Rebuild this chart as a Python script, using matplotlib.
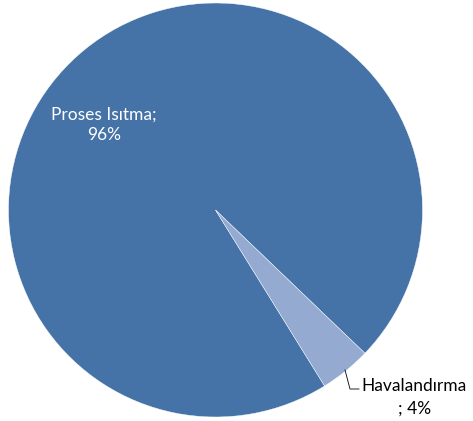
import matplotlib
matplotlib.use('Agg')
import matplotlib.pyplot as plt

# ---- DATA ----
labels = ['Proses Isıtma', 'Havalandırma']
values = [96, 4]
colors = ['#4573A7', '#95AAD0']

# ---- FIGURE ----
W, H = 473, 421
fig = plt.figure(figsize=(W / 100, H / 100), dpi=100)
ax = fig.add_axes([0, 0, 1, 1])

cx, cy, r = 215.5, H - 210, 207
ax.pie(values, colors=colors, startangle=-58.2, counterclock=False,
       center=(cx, cy), radius=r, frame=True,
       wedgeprops=dict(edgecolor='white', linewidth=0.3))
ax.set_xlim(0, W)
ax.set_ylim(0, H)
ax.set_aspect('equal')
ax.axis('off')

font = 'Lato'
fs = 12.5
pct = [f'{v}%' for v in values]

# label inside the big slice
ax.text(104, H - 125, f'{labels[0]};\n{pct[0]}', color='white', fontsize=fs,
        family=font, ha='center', va='center', linespacing=1.35)

# outside label for small slice with leader line
ax.plot([345, 350, 359], [H - 370, H - 389, H - 389], color='black', linewidth=0.6)
ax.text(361, H - 386, labels[1], color='black', fontsize=fs, family=font,
        ha='left', va='center')
ax.text(415, H - 409, f'; {pct[1]}', color='black', fontsize=fs, family=font,
        ha='center', va='center')

fig.savefig('out.png', dpi=100)
